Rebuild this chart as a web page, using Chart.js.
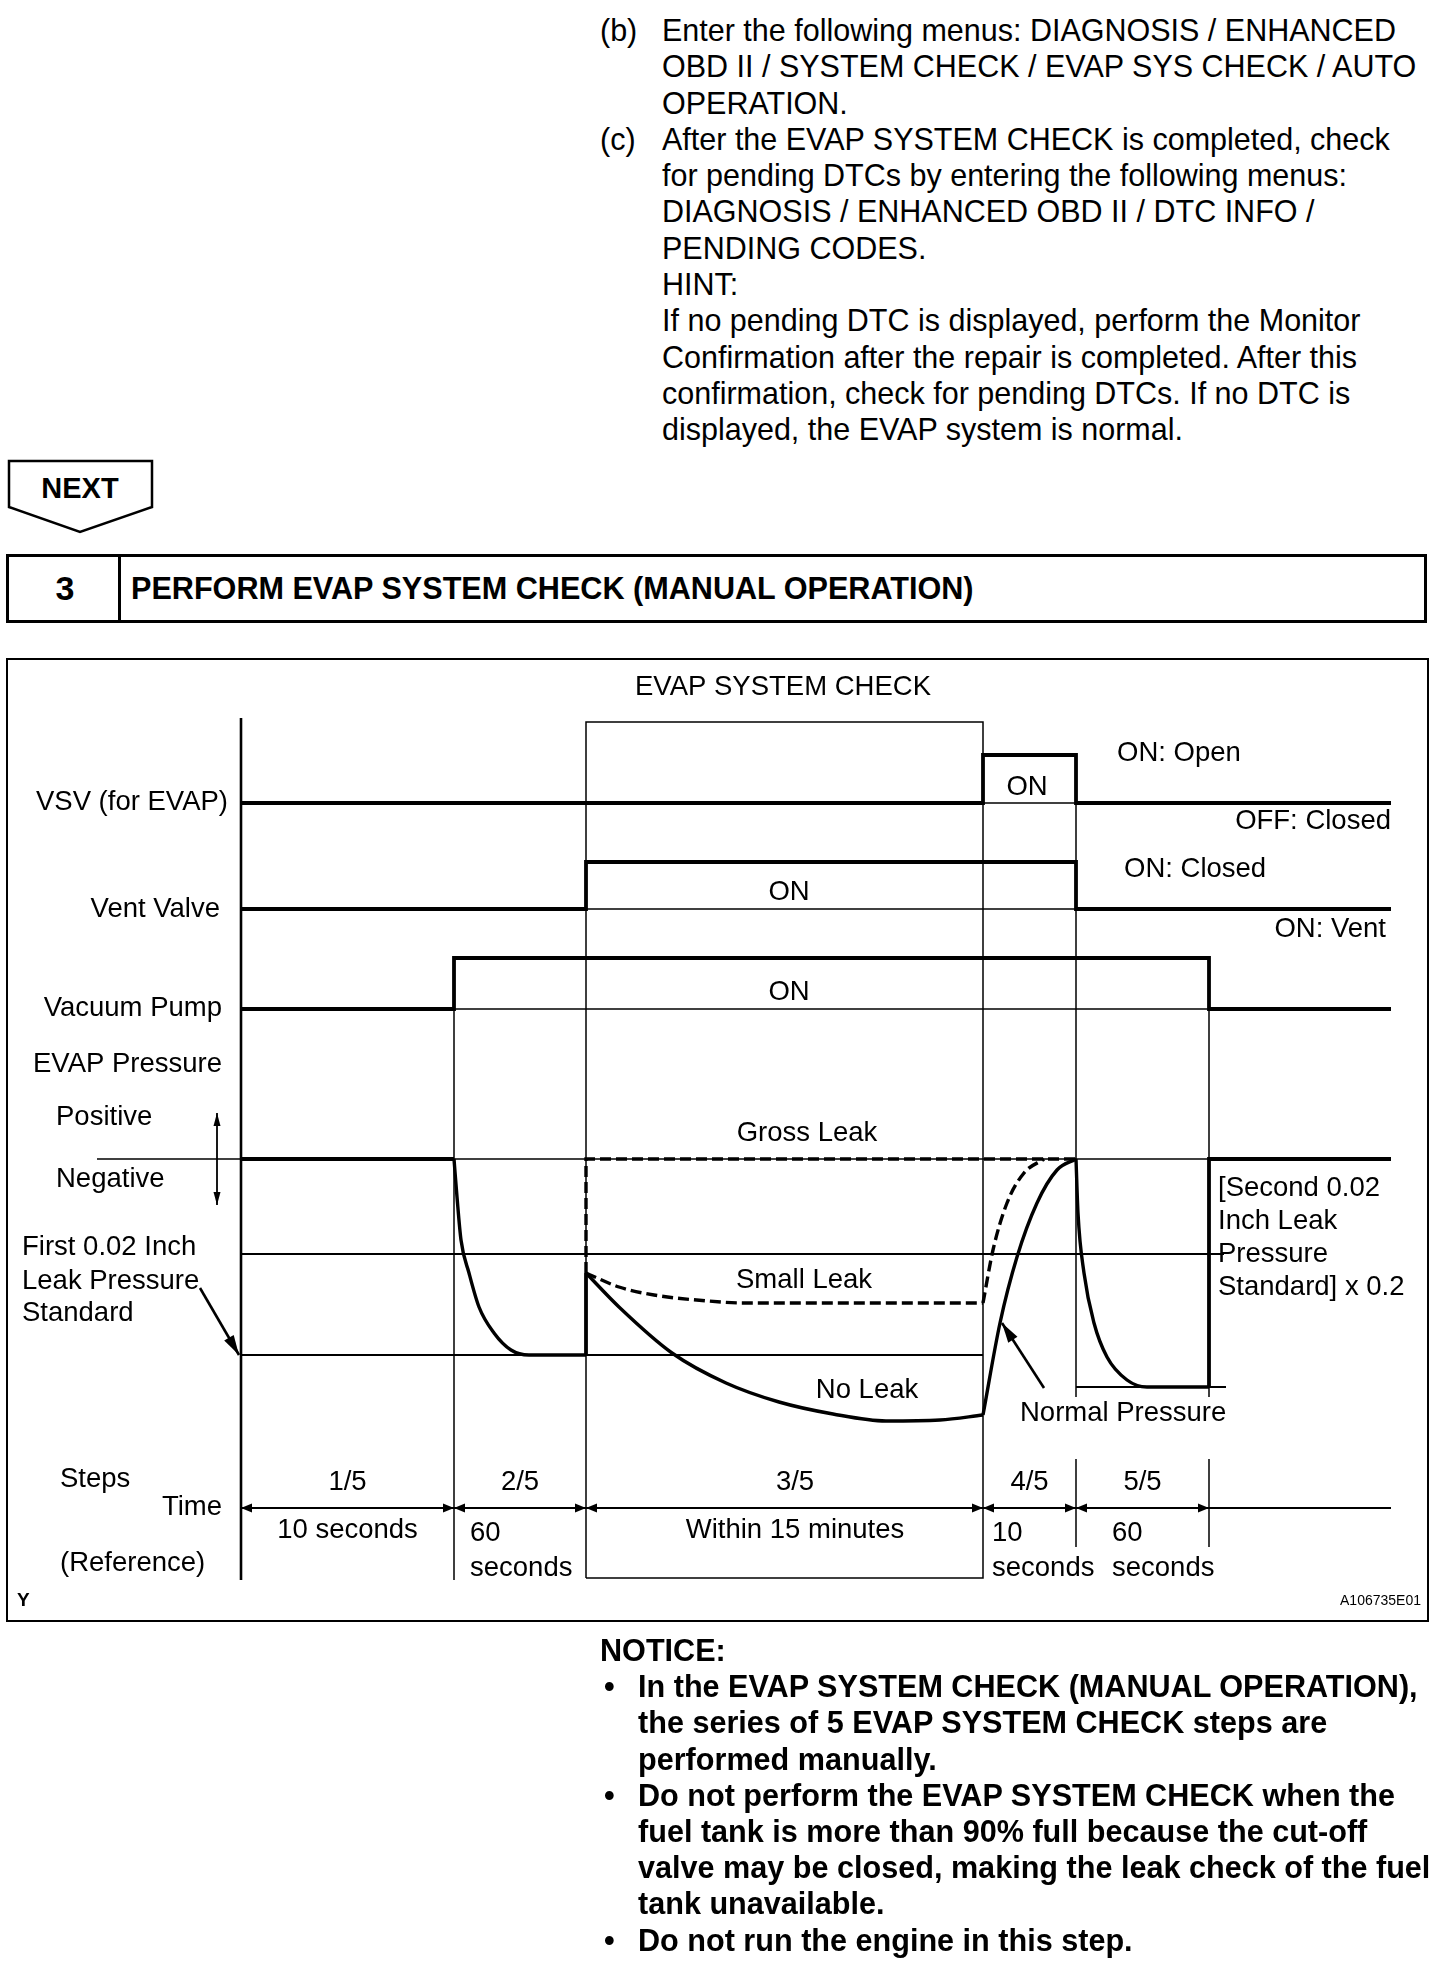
<!DOCTYPE html>
<html>
<head>
<meta charset="utf-8">
<script src="https://cdn.jsdelivr.net/npm/chart.js@4.4.0/dist/chart.umd.min.js"></script>
<style>
  html, body { margin: 0; padding: 0; background: #fff; }
  body { width: 1456px; height: 1988px; position: relative; overflow: hidden;
         font-family: "Liberation Sans", Arial, sans-serif; color: #000; }
  .para { position: absolute; left: 600px; top: 12px; width: 850px; font-size: 30.5px; line-height: 36.3px; }
  .item { position: relative; padding-left: 62px; }
  .item .lbl { position: absolute; left: 0; top: 0; }
  .head { position: absolute; left: 6px; top: 554px; width: 1421px; height: 69px; box-sizing: border-box;
          border: 3px solid #000; }
  .head .num { position: absolute; left: 0; width: 112px; top: 0; height: 63px; line-height: 63px;
               text-align: center; font-weight: bold; font-size: 34px; }
  .head .div { position: absolute; left: 109px; top: 0; width: 3px; height: 63px; background: #000; }
  .head .ttl { position: absolute; left: 122px; top: 0; height: 63px; line-height: 63px; font-weight: bold; font-size: 30.6px; }
  .box { position: absolute; left: 6px; top: 658px; width: 1423px; height: 964px; box-sizing: border-box;
         border: 2.5px solid #000; }
  #wrap { position: absolute; left: 0; top: 640px; width: 1456px; height: 1000px; }
  .notice { position: absolute; left: 600px; top: 1632px; width: 850px; font-size: 30.6px; line-height: 36.2px; font-weight: bold; }
  .notice .b { position: relative; padding-left: 38px; }
  .notice .b span { position: absolute; left: 4px; top: 0; }
  .next { position: absolute; left: 0; top: 450px; }
</style>
</head>
<body>

<div class="para">
  <div class="item"><span class="lbl">(b)</span>Enter the following menus: DIAGNOSIS / ENHANCED<br>OBD II / SYSTEM CHECK / EVAP SYS CHECK / AUTO<br>OPERATION.</div>
  <div class="item"><span class="lbl">(c)</span>After the EVAP SYSTEM CHECK is completed, check<br>for pending DTCs by entering the following menus:<br>DIAGNOSIS / ENHANCED OBD II / DTC INFO /<br>PENDING CODES.<br>HINT:<br>If no pending DTC is displayed, perform the Monitor<br>Confirmation after the repair is completed. After this<br>confirmation, check for pending DTCs. If no DTC is<br>displayed, the EVAP system is normal.</div>
</div>

<svg class="next" width="170" height="95">
  <polygon points="9,11 152,11 152,57 80,82 9,57" fill="#fff" stroke="#000" stroke-width="2.5"/>
  <text x="80" y="48" text-anchor="middle" font-family="Liberation Sans, Arial, sans-serif" font-weight="bold" font-size="29">NEXT</text>
</svg>

<div class="head">
  <div class="num">3</div>
  <div class="div"></div>
  <div class="ttl">PERFORM EVAP SYSTEM CHECK (MANUAL OPERATION)</div>
</div>

<div class="box"></div>
<div id="wrap"><canvas id="chart" width="1456" height="1000"></canvas></div>

<div class="notice">
  NOTICE:
  <div class="b"><span>•</span>In the EVAP SYSTEM CHECK (MANUAL OPERATION),<br>the series of 5 EVAP SYSTEM CHECK steps are<br>performed manually.</div>
  <div class="b"><span>•</span>Do not perform the EVAP SYSTEM CHECK when the<br>fuel tank is more than 90% full because the cut-off<br>valve may be closed, making the leak check of the fuel<br>tank unavailable.</div>
  <div class="b"><span>•</span>Do not run the engine in this step.</div>
</div>

<script>
// step boundaries on the time axis (diagram units)
const stepEdges = [0, 21.3, 34.5, 74.2, 83.5, 96.8];
const traceEnd = 115;
const stepNames = ["1/5", "2/5", "3/5", "4/5", "5/5"];
const stepTimes = [["10 seconds"], ["60", "seconds"], ["Within 15 minutes"], ["10", "seconds"], ["60", "seconds"]];
const signalNames = ["VSV (for EVAP)", "Vent Valve", "Vacuum Pump"];
const stateNotes = ["ON: Open", "OFF: Closed", "ON: Closed", "ON: Vent"];
const pressureNotes = ["Gross Leak", "Small Leak", "No Leak", "Normal Pressure"];

// on/off signals (low, high)
const vsvLevels = [81.8, 86.6];
const ventLevels = [71.2, 75.9];
const pumpLevels = [61.2, 66.3];

// pressure levels: 0 line, first standard, first standard bottom, second standard
const pressureLevels = [46.2, 36.7, 26.6, 23.4];

// pressure curves [x, y]
const pumpDown = [[21.3, 46.2], [21.6, 42.4], [22.0, 38.1], [22.8, 34.8], [23.8, 31.4], [25.3, 28.8], [27.0, 27.1], [28.8, 26.6], [34.5, 26.6]];
const noLeak = [[34.5, 34.8], [37.8, 31.4], [43.1, 26.8], [48.5, 23.8], [53.8, 21.9], [59.2, 20.7], [64.5, 20.0], [69.9, 20.1], [74.2, 20.6]];
const normalRise = [[74.2, 20.6], [75.9, 29.8], [77.6, 36.4], [79.6, 41.8], [81.6, 45.1], [83.5, 46.2]];
const secondDown = [[83.5, 46.2], [83.7, 40.8], [84.3, 34.8], [85.3, 29.8], [86.6, 26.4], [88.6, 24.1], [90.6, 23.4], [96.8, 23.4]];
const smallLeak = [[34.5, 34.8], [37.8, 33.4], [41.3, 32.6], [46.7, 32.0], [50.3, 31.8], [74.2, 31.8]];
const smallRise = [[74.2, 31.8], [75.2, 37.1], [76.6, 41.8], [78.3, 44.8], [80.3, 46.2]];

const FONT = '27.5px "Liberation Sans", Arial, sans-serif';
const [T0, T1, T2, T3, T4, T5] = stepEdges;

function seg(points, width, extra) {
  return Object.assign({
    data: points.map(([x, y]) => ({ x, y })),
    showLine: true, borderColor: "#000", borderWidth: width,
    pointRadius: 0, tension: 0, fill: false, clip: false
  }, extra || {});
}
const curve = { cubicInterpolationMode: "monotone" };
const dash = { borderDash: [11, 5] };

function pulse(levels, on, off) {
  const [lo, hi] = levels;
  return [[T0, lo], [on, lo], [on, hi], [off, hi], [off, lo], [traceEnd, lo]];
}

const P0 = pressureLevels[0];
const datasets = [
  // axis and step guides
  seg([[T0, 90.3], [T0, 4.1]], 2.6),
  seg([[T1, pumpLevels[1]], [T1, 4.1]], 1.5),
  seg([[T2, 4.3], [T2, 89.9], [T3, 89.9], [T3, 4.3], [T2, 4.3]], 1.5),
  seg([[T4, vsvLevels[1]], [T4, 22.4]], 1.5),
  seg([[T4, 16.2], [T4, 7.4]], 1.5),
  seg([[T5, pumpLevels[1]], [T5, 22.4]], 1.5),
  seg([[T5, 16.2], [T5, 7.4]], 1.5),
  // thin baselines under ON pulses
  seg([[T3, vsvLevels[0]], [T4, vsvLevels[0]]], 1.6),
  seg([[T2, ventLevels[0]], [T4, ventLevels[0]]], 1.6),
  seg([[T1, pumpLevels[0]], [T5, pumpLevels[0]]], 1.6),
  // signals
  seg(pulse(vsvLevels, T3, T4), 3.8),
  seg(pulse(ventLevels, T2, T4), 3.8),
  seg(pulse(pumpLevels, T1, T5), 3.8),
  // pressure reference lines
  seg([[-14.4, P0], [traceEnd, P0]], 1.5),
  seg([[T0, pressureLevels[1]], [98.3, pressureLevels[1]]], 2.2),
  seg([[T0, pressureLevels[2]], [T3, pressureLevels[2]]], 2.2),
  seg([[T4, pressureLevels[3]], [98.5, pressureLevels[3]]], 2.2),
  // pressure traces
  seg([[T0, P0], [T1, P0]], 3.8),
  seg(pumpDown, 3.4, curve),
  seg([[T2, pressureLevels[2]], [T2, noLeak[0][1]]], 3.8),
  seg(noLeak, 3.4, curve),
  seg(normalRise, 3.4, curve),
  seg(secondDown, 3.4, curve),
  seg([[T5, pressureLevels[3]], [T5, P0], [traceEnd, P0]], 3.8),
  seg([[T2, noLeak[0][1]], [T2, P0], [T4, P0]], 3.4, dash),
  seg(smallLeak, 3.4, Object.assign({}, curve, dash)),
  seg(smallRise, 3.4, Object.assign({}, curve, dash)),
  // arrows
  seg([[-2.4, 50.8], [-2.4, 41.6]], 1.8, { arrow: { start: true, end: true, len: 13, width: 7 } }),
  seg([[-4.1, 33.3], [-0.2, 26.6]], 2.6, { arrow: { end: true, len: 20, width: 11 } }),
  seg([[80.3, 23.3], [76.1, 29.8]], 2.6, { arrow: { end: true, len: 20, width: 11 } }),
  seg([[T5, 11.3], [traceEnd, 11.3]], 2.2)
];
for (let i = 0; i < 5; i++) {
  datasets.push(seg([[stepEdges[i], 11.3], [stepEdges[i + 1], 11.3]], 2.2,
    { arrow: { start: true, end: true, len: 11, width: 9 } }));
}

// text placed in diagram units
const textItems = [];
const put = (text, x, y, align, font) => textItems.push({ text, x, y, align, font });
put("EVAP SYSTEM CHECK", 54.2, 93.4, "center");
put(signalNames[0], -1.3, 81.9, "right");
put(signalNames[1], -2.1, 71.2, "right");
put(signalNames[2], -1.9, 61.3, "right");
put("EVAP Pressure", -1.9, 55.7, "right");
put("Positive", -18.5, 50.4);
put("Negative", -18.5, 44.2);
put("First 0.02 Inch", -21.9, 37.4);
put("Leak Pressure", -21.9, 34.0);
put("Standard", -21.9, 30.8);
put(stateNotes[0], 87.6, 86.8);
put(stateNotes[1], 115.0, 80.0, "right");
put(stateNotes[2], 88.3, 75.2);
put(stateNotes[3], 114.5, 69.2, "right");
put("ON", 78.6, 83.4, "center");
put("ON", 54.8, 72.9, "center");
put("ON", 54.8, 62.9, "center");
put(pressureNotes[0], 56.6, 48.8, "center");
put(pressureNotes[1], 56.3, 34.1, "center");
put(pressureNotes[2], 62.6, 23.1, "center");
put(pressureNotes[3], 77.9, 20.8);
["[Second 0.02", "Inch Leak", "Pressure", "Standard] x 0.2"].forEach((t, i) => put(t, 97.7, 43.3 - i * 3.3));
put("Steps", -18.1, 14.2);
put("Time", -1.9, 11.4, "right");
put("(Reference)", -18.1, 5.8);
const timeLeft = [null, 22.9, null, 75.1, 87.1];
stepNames.forEach((s, i) => {
  const mid = (stepEdges[i] + stepEdges[i + 1]) / 2;
  put(s, i === 2 ? 55.4 : mid, 13.9, "center");
  const t = stepTimes[i];
  if (t.length === 1) put(t[0], i === 2 ? 55.4 : mid, 9.1, "center");
  else { put(t[0], timeLeft[i], 8.8); put(t[1], timeLeft[i], 5.3); }
});
put("Y", -22.4, 2.0, "left", 'bold 19px "Liberation Sans", Arial, sans-serif');
put("A106735E01", 118.0, 2.0, "right", '14px "Liberation Sans Narrow", "Liberation Sans", Arial, sans-serif');

const diagramText = {
  id: "diagramText",
  afterDatasetsDraw(chart, args, opts) {
    const { ctx, scales: { x, y } } = chart;
    ctx.save();
    ctx.fillStyle = "#000";
    ctx.textBaseline = "middle";
    opts.items.forEach(it => {
      ctx.font = it.font || FONT;
      ctx.textAlign = it.align || "left";
      ctx.fillText(it.text, x.getPixelForValue(it.x), y.getPixelForValue(it.y));
    });
    ctx.restore();
  }
};

const arrowHeads = {
  id: "arrowHeads",
  afterDatasetsDraw(chart) {
    const ctx = chart.ctx;
    chart.data.datasets.forEach((ds, i) => {
      if (!ds.arrow) return;
      const pts = chart.getDatasetMeta(i).data;
      const n = pts.length;
      const L = ds.arrow.len, W = ds.arrow.width / 2;
      const draw = (tip, from) => {
        const a = Math.atan2(tip.y - from.y, tip.x - from.x);
        const bx = tip.x - L * Math.cos(a), by = tip.y - L * Math.sin(a);
        ctx.beginPath();
        ctx.moveTo(tip.x, tip.y);
        ctx.lineTo(bx + W * Math.sin(a), by - W * Math.cos(a));
        ctx.lineTo(bx - W * Math.sin(a), by + W * Math.cos(a));
        ctx.closePath();
        ctx.fill();
      };
      ctx.save();
      ctx.fillStyle = "#000";
      if (ds.arrow.start) draw(pts[0], pts[1]);
      if (ds.arrow.end) draw(pts[n - 1], pts[n - 2]);
      ctx.restore();
    });
  }
};

new Chart(document.getElementById("chart"), {
  type: "scatter",
  data: { datasets },
  options: {
    responsive: false,
    animation: false,
    events: [],
    devicePixelRatio: 1,
    layout: { padding: 0 },
    plugins: {
      legend: { display: false },
      tooltip: { enabled: false },
      diagramText: { items: textItems }
    },
    scales: {
      x: { type: "linear", min: -24.1, max: 121.5, display: false },
      y: { type: "linear", min: -1.9, max: 98.1, display: false }
    }
  },
  plugins: [diagramText, arrowHeads]
});
</script>
</body>
</html>
